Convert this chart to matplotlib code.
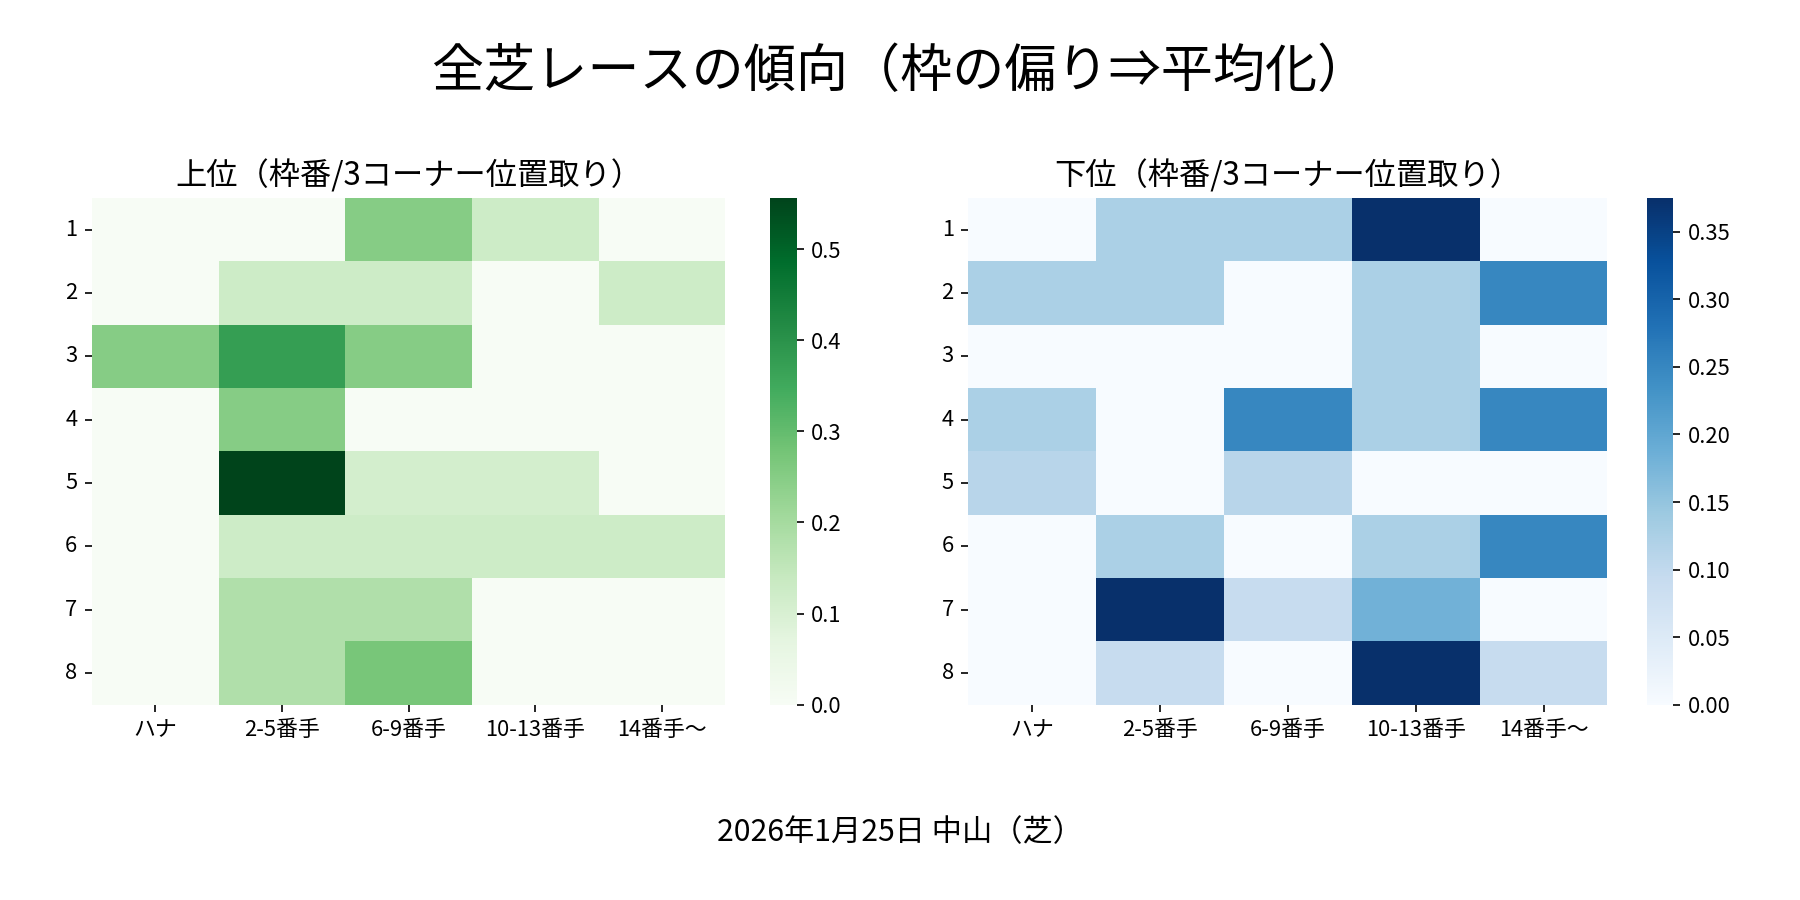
import numpy as np
import matplotlib
matplotlib.use('Agg')
import matplotlib.pyplot as plt
import seaborn as sns

plt.rcParams['font.family'] = ['Noto Sans CJK JP', 'DejaVu Sans']

frames = ['1', '2', '3', '4', '5', '6', '7', '8']
positions = ['ハナ', '2-5番手', '6-9番手', '10-13番手', '14番手〜']

# 上位
top_vals = [
    [0, 0, 0.25, 0.125, 0],
    [0, 0.125, 0.125, 0, 0.125],
    [0.25, 0.375, 0.25, 0, 0],
    [0, 0.25, 0, 0, 0],
    [0, 0.556, 0.111, 0.111, 0],
    [0, 0.125, 0.125, 0.125, 0.125],
    [0, 0.182, 0.182, 0, 0],
    [0, 0.182, 0.273, 0, 0],
]
# 下位
bottom_vals = [
    [0, 0.125, 0.125, 0.375, 0],
    [0.125, 0.125, 0, 0.125, 0.25],
    [0, 0, 0, 0.125, 0],
    [0.125, 0, 0.25, 0.125, 0.25],
    [0.111, 0, 0.111, 0, 0],
    [0, 0.125, 0, 0.125, 0.25],
    [0, 0.375, 0.091, 0.182, 0],
    [0, 0.091, 0, 0.375, 0.091],
]

fig = plt.figure(figsize=(12, 6), dpi=150)
ax1 = fig.add_axes([0.051, 0.217, 0.352, 0.563])
cax1 = fig.add_axes([0.428, 0.217, 0.0145, 0.563])
ax2 = fig.add_axes([0.538, 0.217, 0.355, 0.563])
cax2 = fig.add_axes([0.915, 0.217, 0.0145, 0.563])

sns.heatmap(np.array(top_vals), ax=ax1, cbar_ax=cax1, cmap='Greens',
            xticklabels=positions, yticklabels=frames)
sns.heatmap(np.array(bottom_vals), ax=ax2, cbar_ax=cax2, cmap='Blues',
            xticklabels=positions, yticklabels=frames)

for ax, title in [(ax1, '上位（枠番/3コーナー位置取り）'), (ax2, '下位（枠番/3コーナー位置取り）')]:
    ax.set_title(title, fontsize=15)
    ax.tick_params(labelsize=10.5)
    plt.setp(ax.get_yticklabels(), rotation=0)
    plt.setp(ax.get_xticklabels(), rotation=0)
for cax in [cax1, cax2]:
    cax.tick_params(labelsize=10.5)

fig.suptitle('全芝レースの傾向（枠の偏り⇒平均化）', fontsize=25, y=0.95)
fig.text(0.5, 0.075, '2026年1月25日 中山（芝）', ha='center', va='center', fontsize=14.5)

plt.savefig('out.png')
